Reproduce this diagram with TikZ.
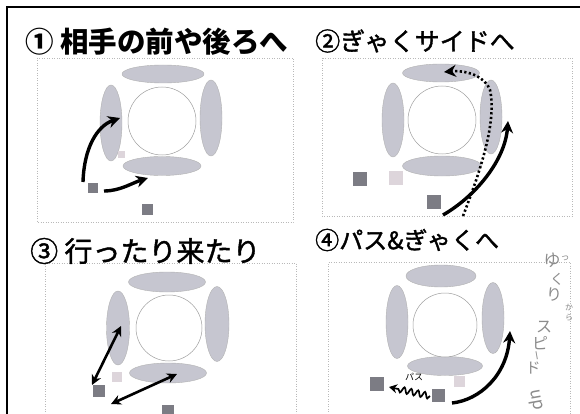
\documentclass[tikz,border=0pt]{standalone}
\usepackage{fontspec}
\setmainfont{Noto Sans CJK JP}
\usetikzlibrary{arrows.meta,shapes.geometric,decorations.pathmorphing}
\definecolor{padc}{HTML}{C6C6D0}
\definecolor{sqdc}{HTML}{7C7C84}
\definecolor{sqlc}{HTML}{DDD5DB}
\definecolor{handc}{HTML}{8C8C8C}
\begin{document}
\begin{tikzpicture}[x=1pt,y=-1pt,
  pad/.style 2 args={ellipse, draw=gray!60, line width=0.4pt, fill=padc, inner sep=0pt, minimum width=#1pt, minimum height=#2pt},
  ring/.style={circle, draw=gray!75, line width=0.5pt, fill=white, inner sep=0pt, minimum size=#1pt},
  sqd/.style={rectangle, fill=sqdc, inner sep=0pt, minimum size=#1pt},
  sql/.style={rectangle, fill=sqlc, inner sep=0pt, minimum size=#1pt},
  frame/.style={draw=gray!55, dotted, line width=0.5pt},
  move/.style={line width=3.4pt, -{Stealth[length=12pt,width=12pt]}},
  both/.style={line width=2.6pt, {Stealth[length=10pt,width=10pt]}-{Stealth[length=10pt,width=10pt]}},
  title/.style={inner sep=0pt, anchor=west, font=\fontsize{#1}{#1}\selectfont\addfontfeature{FakeBold=1.5}},
  hand/.style={inner sep=0pt, text=handc, font=\fontsize{#1}{#1}\selectfont}]
\useasboundingbox (0,0) rectangle (580,414);
\fill[white] (0,0) rectangle (580,414);
% outer frame
\draw[line width=1.3pt] (7,414) -- (7,7) -- (580,7);
% inner frames
\draw[frame] (37,58) rectangle (293,222);
\draw[frame] (322,58) rectangle (572,216);
\draw[frame] (45,414) -- (45,263) -- (296,263) -- (296,414);
\draw[frame] (328,414) -- (328,262) -- (570,262) -- (570,414);
% titles
\node[inner sep=0pt, anchor=west, font=\bfseries\fontsize{28.5}{28.5}\selectfont] (h1) at (25,42) {① 相手の前や後ろへ};
\node[title=25] (h2) at (315,41) {②ぎゃくサイドへ};
\node[title=28] (h3) at (30,251) {③ 行ったり来たり};
\node[title=24] (h4) at (315,240) {④パス\&ぎゃくへ};

% ---------- panel 1
\node[pad={82}{18}] (t1) at (163,74) {};
\node[pad={22}{76}] (l1) at (111,123) {};
\node[pad={22}{76}] (r1) at (211,118) {};
\node[pad={78}{19}] (b1) at (162,166) {};
\node[ring=68] (c1) at (162,121) {};
\node[sqd=10] (p1a) at (93,188) {};
\node[sqd=11] (p1b) at (147,209) {};
\node[sql=7] (p1c) at (121,155) {};
\coordinate (s1a) at (83,182);
\coordinate (e1a) at (120,118);
\coordinate (s1b) at (104,191);
\coordinate (e1b) at (148,178);
\draw[move] (s1a) .. controls (84,148) and (97,126) .. (e1a);
\draw[move] (s1b) .. controls (120,191) and (132,183) .. (e1b);

% ---------- panel 2
\node[pad={77}{18}] (t2) at (441,73) {};
\node[pad={22}{74}] (l2) at (393,120) {};
\node[pad={22}{74}] (r2) at (491,117) {};
\node[pad={79}{20}] (b2) at (442,166) {};
\node[ring=68] (c2) at (442,120) {};
\node[sqd=14] (p2a) at (360,179) {};
\node[sql=14] (p2b) at (396,178) {};
\node[sqd=14] (p2c) at (434,202) {};
\coordinate (s2a) at (463,216);
\coordinate (m2a) at (490,90);
\coordinate (e2a) at (444,72);
\coordinate (s2b) at (443,215);
\coordinate (e2b) at (508,121);
\draw[line width=2.6pt, dash pattern=on 2.2pt off 2.4pt, -{Stealth[length=12pt,width=12pt]}]
  (s2a) .. controls (480,172) and (497,122) .. (m2a) .. controls (485,76) and (466,70) .. (e2a);
\draw[move] (s2b) .. controls (476,196) and (505,160) .. (e2b);

% ---------- panel 3
\node[pad={77}{20}] (t3) at (167,282) {};
\node[pad={23}{74}] (l3) at (118,328) {};
\node[pad={24}{75}] (r3) at (217,324) {};
\node[pad={77}{20}] (b3) at (168,373) {};
\node[ring=66] (c3) at (169,328) {};
\node[sql=10] (p3a) at (117,377) {};
\node[sqd=12] (p3b) at (99,391) {};
\node[sqd=12] (p3c) at (168,411) {};
\coordinate (s3a) at (92,385);
\coordinate (e3a) at (121,326);
\coordinate (s3b) at (111,404);
\coordinate (e3b) at (177,374);
\draw[both] (s3a) -- (e3a);
\draw[both] (s3b) -- (e3b);

% ---------- panel 4
\node[pad={70}{22}] (t4) at (441,276) {};
\node[pad={22}{73}] (l4) at (397,322) {};
\node[pad={22}{71}] (r4) at (493,318) {};
\node[pad={75}{19}] (b4) at (445,366) {};
\node[ring=64] (c4) at (445,325) {};
\node[sqd=14] (p4a) at (377,384) {};
\node[sql=11] (p4b) at (459,381) {};
\node[sqd=13] (p4c) at (438,395) {};
\node[inner sep=0pt, font=\fontsize{9}{9}\selectfont] (pl) at (414,377) {パス};
\coordinate (s4a) at (430,396);
\coordinate (e4a) at (389,387);
\draw[line width=1.7pt, -{Stealth[length=8pt,width=9pt]}, decorate,
  decoration={snake, amplitude=3pt, segment length=7pt, post length=7pt}] (s4a) -- (e4a);
\coordinate (s4b) at (452,403);
\coordinate (e4b) at (510,331);
\draw[move] (s4b) .. controls (480,400) and (507,375) .. (e4b);
% handwritten note
\node[hand=17] (w1) at (552,260) {ゆ};
\node[hand=9] (w2) at (565,258) {っ};
\node[hand=14] (w3) at (557,279) {く};
\node[hand=16] (w4) at (554,295) {り};
\node[hand=8] (w5) at (569,307) {か};
\node[hand=8] (w6) at (569,318) {ら};
\node[hand=16] (w7) at (544,327) {ス};
\node[hand=16] (w8) at (540,343) {ピ};
\node[hand=10, rotate=-80] (w9) at (535,356) {ー};
\node[hand=15] (w10) at (533,368) {ド};
\node[hand=17, rotate=-80] (w11) at (535,400) {up};
\end{tikzpicture}
\end{document}
